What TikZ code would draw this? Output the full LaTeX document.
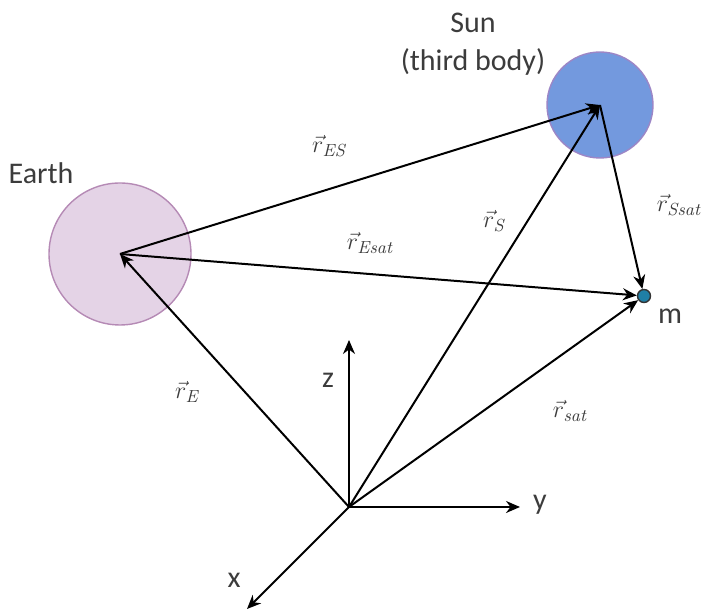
\documentclass[tikz,border=0pt]{standalone}
\usepackage{fontspec}
\setsansfont{Carlito}
\usetikzlibrary{arrows.meta,positioning}
\definecolor{EarthFill}{HTML}{E4D3E6}
\definecolor{EarthLine}{HTML}{B58AB5}
\definecolor{SunFill}{HTML}{7399DE}
\definecolor{SunLine}{HTML}{9C86C6}
\definecolor{SatFill}{HTML}{1F7FA6}
\definecolor{TextGrey}{HTML}{3C3C3C}
\newcommand{\rv}[1]{$\vec{r}_{\mathit{#1}}$}

\begin{document}
\begin{tikzpicture}[x=0.5pt,y=-0.5pt,
  >={Stealth[length=7pt,width=6pt]},
  vec/.style={->, line width=1pt},
  body/.style={circle, draw, line width=0.7pt, inner sep=0pt},
  lbl/.style={text=TextGrey, font=\sffamily\fontsize{15}{19}\selectfont},
  sym/.style={text=TextGrey, font=\fontsize{12.5}{14}\selectfont}]
\useasboundingbox (0,0) rectangle (703,613);
% bodies
\node[body, fill=EarthFill, draw=EarthLine, minimum size=71pt] (earth) at (120,254) {};
\node[body, fill=SunFill, draw=SunLine, minimum size=53pt] (sun) at (600,105) {};
\node[body, fill=SatFill, draw=black!80, minimum size=6.5pt] (sat) at (644,296) {};
\node[lbl] (earthlbl) at (41,173) {Earth};
\node[lbl, align=center] (sunlbl) at (473,44) {Sun\\(third body)};
\node[lbl] (mlbl) at (670,316) {m};
% frame
\coordinate (O) at (349,507);
\coordinate (zend) at (349,340);
\coordinate (yend) at (520,507);
\coordinate (xend) at (247,609);
\draw[vec] (O) -- (zend);
\draw[vec] (O) -- (yend);
\draw[vec] (O) -- (xend);
\node[lbl] (zlbl) at (328,380) {z};
\node[lbl] (ylbl) at (540,505) {y};
\node[lbl] (xlbl) at (234,580) {x};
% position vectors
\draw[vec] (O) -- (earth.center);
\draw[vec] (O) -- (sun.center);
\draw[vec] (O) -- (sat);
\draw[vec] (earth.center) -- (sun.center);
\draw[vec] (earth.center) -- (sat);
\draw[vec] (sun.center) -- (sat);
% labels
\node[sym] (rES) at (329,146) {\rv{ES}};
\node[sym] (rEsat) at (370,243) {\rv{Esat}};
\node[sym] (rS) at (494,221) {\rv{S}};
\node[sym] (rSsat) at (679,205) {\rv{Ssat}};
\node[sym] (rE) at (187,392) {\rv{E}};
\node[sym] (rsat) at (570,411) {\rv{sat}};
\end{tikzpicture}
\end{document}
